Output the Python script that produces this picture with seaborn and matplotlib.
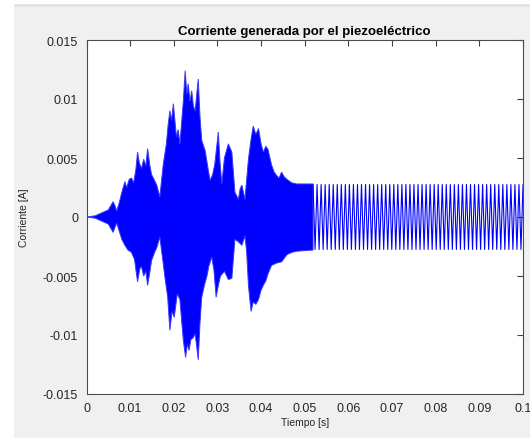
import numpy as np
import pandas as pd
import matplotlib
matplotlib.use("Agg")
import matplotlib.pyplot as plt
import seaborn as sns
from matplotlib.patches import Rectangle

# upper envelope of the dense (voice) part
hi_t = [0.0, 0.0020, 0.0038, 0.0050, 0.0061, 0.0066, 0.0069, 0.0075, 0.0081, 0.0088,
        0.0092, 0.0098, 0.0103, 0.0108, 0.0113, 0.0117, 0.0121, 0.0126, 0.0131, 0.0136,
        0.0140, 0.0145, 0.0149, 0.0156, 0.0161, 0.0168, 0.0176, 0.0183, 0.0187, 0.0191,
        0.0195, 0.0199, 0.0206, 0.0210, 0.0214, 0.0222, 0.0226, 0.0230, 0.0233, 0.0237,
        0.0241, 0.0245, 0.0249, 0.0256, 0.0260, 0.0264, 0.0272, 0.0278, 0.0283, 0.0289,
        0.0294, 0.0302, 0.0306, 0.0310, 0.0316, 0.0325, 0.0333, 0.0340, 0.0348, 0.0352,
        0.0356, 0.0363, 0.0371, 0.0377, 0.0382, 0.0388, 0.0394, 0.0400, 0.0405, 0.0411,
        0.0416, 0.0424, 0.0430, 0.0436, 0.0441, 0.0447, 0.0453, 0.0459, 0.0470, 0.0482,
        0.0519]
hi_v = [0.0, 0.0001, 0.0004, 0.0006, 0.0013, 0.0009, 0.0005, 0.0012, 0.0021, 0.0030,
        0.0025, 0.0032, 0.0033, 0.0029, 0.0040, 0.0055, 0.0046, 0.0041, 0.0049, 0.0043,
        0.0058, 0.0044, 0.0036, 0.0031, 0.0027, 0.0017, 0.0045, 0.0062, 0.0078, 0.0090,
        0.0082, 0.0096, 0.0068, 0.0074, 0.0062, 0.0099, 0.0124, 0.0104, 0.0113, 0.0098,
        0.0107, 0.0094, 0.0090, 0.0117, 0.0085, 0.0065, 0.0056, 0.0042, 0.0031, 0.0036,
        0.0045, 0.0072, 0.0046, 0.0028, 0.0050, 0.0062, 0.0055, 0.0021, 0.0015, 0.0024,
        0.0027, 0.0015, 0.0049, 0.0066, 0.0077, 0.0070, 0.0075, 0.0062, 0.0055, 0.0060,
        0.0057, 0.0044, 0.0038, 0.0035, 0.0033, 0.0038, 0.0034, 0.0032, 0.0029, 0.0028,
        0.0028]

# lower envelope of the dense part
lo_t = [0.0, 0.0020, 0.0038, 0.0050, 0.0061, 0.0066, 0.0069, 0.0075, 0.0081, 0.0088,
        0.0095, 0.0103, 0.0110, 0.0117, 0.0122, 0.0126, 0.0131, 0.0136, 0.0140, 0.0145,
        0.0149, 0.0156, 0.0161, 0.0168, 0.0176, 0.0180, 0.0186, 0.0191, 0.0196, 0.0201,
        0.0208, 0.0214, 0.0218, 0.0222, 0.0227, 0.0231, 0.0235, 0.0239, 0.0245, 0.0249,
        0.0256, 0.0260, 0.0264, 0.0270, 0.0276, 0.0280, 0.0287, 0.0292, 0.0297, 0.0302,
        0.0307, 0.0316, 0.0325, 0.0333, 0.0340, 0.0348, 0.0356, 0.0363, 0.0367, 0.0371,
        0.0377, 0.0382, 0.0388, 0.0394, 0.0400, 0.0405, 0.0411, 0.0416, 0.0424, 0.0436,
        0.0447, 0.0459, 0.0470, 0.0482, 0.0519]
lo_v = [0.0, -0.0001, -0.0004, -0.0006, -0.0013, -0.0008, -0.0005, -0.0012, -0.0019, -0.0024,
        -0.0028, -0.0030, -0.0036, -0.0055, -0.0044, -0.0042, -0.0050, -0.0046, -0.0058, -0.0047,
        -0.0037, -0.0030, -0.0026, -0.0017, -0.0040, -0.0052, -0.0068, -0.0096, -0.0080, -0.0085,
        -0.0065, -0.0070, -0.0088, -0.0105, -0.0119, -0.0108, -0.0113, -0.0104, -0.0102, -0.0099,
        -0.0121, -0.0090, -0.0068, -0.0058, -0.0050, -0.0042, -0.0034, -0.0045, -0.0068, -0.0058,
        -0.0050, -0.0046, -0.0053, -0.0052, -0.0019, -0.0021, -0.0024, -0.0016, -0.0030, -0.0058,
        -0.0080, -0.0072, -0.0074, -0.0070, -0.0062, -0.0058, -0.0054, -0.0048, -0.0041, -0.0039,
        -0.0038, -0.0032, -0.0030, -0.0029, -0.0028]

# steady tone after the voice part
tail_start = 0.0519
tail_end = 0.1
tail_amp_hi = 0.00275
tail_amp_lo = -0.00275
tail_cycles = 52

xticks = [0, 0.01, 0.02, 0.03, 0.04, 0.05, 0.06, 0.07, 0.08, 0.09, 0.1]
xlabels = ["0", "0.01", "0.02", "0.03", "0.04", "0.05", "0.06", "0.07", "0.08", "0.09", "0.1"]
yticks = [-0.015, -0.01, -0.005, 0, 0.005, 0.01, 0.015]
ylabels = ["-0.015", "-0.01", "-0.005", "0", "0.005", "0.01", "0.015"]

sns.set_style("white")
plt.rcParams['font.family'] = ['Liberation Sans', 'DejaVu Sans']

fig = plt.figure(figsize=(5.30, 4.39), dpi=100)
fig.patch.set_facecolor("#f0f0f0")
# white margins of the screenshot
fig.patches.append(Rectangle((0, 0), 14 / 530, 1, transform=fig.transFigure,
                             facecolor="white", edgecolor="none", zorder=-1))
fig.patches.append(Rectangle((0, 1 - 5 / 439), 1, 5 / 439, transform=fig.transFigure,
                             facecolor="white", edgecolor="none", zorder=-1))
fig.lines.append(plt.Line2D([14 / 530, 1], [1 - 5.5 / 439, 1 - 5.5 / 439],
                            transform=fig.transFigure, color="#d8d8d8", lw=1))

ax = fig.add_axes([86.5 / 530, 44 / 439, 436.5 / 530, 354 / 439])
ax.set_facecolor("white")

blue = "#0000ff"
# dense part as one filled outline: upper edge forward, lower edge back
ax.fill(hi_t + lo_t[::-1], hi_v + lo_v[::-1], facecolor=blue,
        edgecolor="#3a3aff", lw=0.7)

n_half = tail_cycles * 2 + 1
tail = pd.DataFrame({
    "t": np.linspace(tail_start, tail_end, n_half),
    "i": [tail_amp_hi if k % 2 == 0 else tail_amp_lo for k in range(n_half)],
})
sns.lineplot(data=tail, x="t", y="i", ax=ax, color=blue, lw=0.8,
             sort=False, estimator=None)

ax.set_xlim(0, 0.1)
ax.set_ylim(-0.015, 0.015)
ax.set_xticks(xticks)
ax.set_xticklabels(xlabels)
ax.set_yticks(yticks)
ax.set_yticklabels(ylabels)
ax.tick_params(direction="in", length=4, width=0.8, color="0.25",
               top=True, right=True, labelsize=9, labelcolor="#262626", pad=6)
for s in ax.spines.values():
    s.set_color("0.3")
    s.set_linewidth(0.8)

ax.set_title("Corriente generada por el piezoeléctrico", fontsize=9.5,
             fontweight="bold", color="black", pad=4)
ax.set_xlabel("Tiempo [s]", fontsize=7.5, color="#262626", labelpad=2)
ax.set_ylabel("Corriente [A]", fontsize=7.5, color="#262626", labelpad=10)

fig.savefig("out.png", dpi=100, facecolor=fig.get_facecolor())
